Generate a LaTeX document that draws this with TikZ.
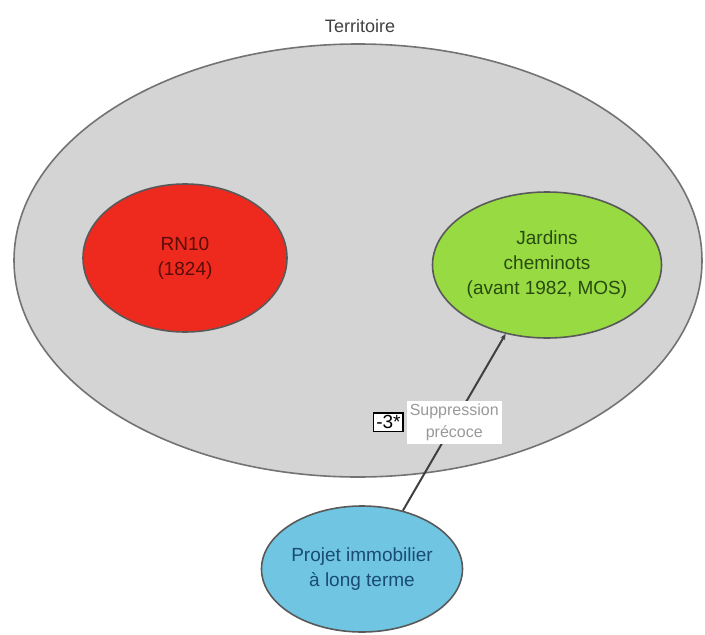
\documentclass[tikz,border=0pt]{standalone}
\usepackage{fontspec}
\setmainfont{Liberation Sans}
\usetikzlibrary{shapes.geometric,positioning,arrows.meta}

\definecolor{fondgris}{RGB}{212,212,212}
\definecolor{rougeRN}{RGB}{238,42,30}
\definecolor{vertJardin}{RGB}{152,218,66}
\definecolor{bleuProjet}{RGB}{112,198,226}

\tikzset{
  zone/.style={ellipse, draw=black!65, line width=1.6pt, inner sep=0pt, align=center,
    font=\fontsize{19}{25}\selectfont},
}

\begin{document}
\begin{tikzpicture}[x=1pt,y=-1pt]
            \useasboundingbox (0,0) rectangle (705,635);

            % territoire
            \node[zone, fill=fondgris, draw=black!55, minimum width=688pt, minimum height=433pt] (territoire) at (358,260.5) {};
            \node[font=\fontsize{18}{25}\selectfont, text=black!75] (titre) at (360,26) {Territoire};

            % zones
            \node[zone, fill=rougeRN, text={rgb,255:red,90;green,12;blue,6}, minimum width=204pt, minimum height=148pt] (rn) at (185,258) {RN10\\(1824)};
            \node[zone, fill=vertJardin, text={rgb,255:red,40;green,75;blue,15}, minimum width=229pt, minimum height=146pt] (jardins) at (547,265) {Jardins\\cheminots\\(avant 1982, MOS)};
            \node[zone, fill=bleuProjet, text={rgb,255:red,25;green,75;blue,115}, minimum width=201pt, minimum height=126pt] (projet) at (362,569) {Projet immobilier\\à long terme};

            \draw[-{Stealth[length=6pt,width=5pt]}, line width=2pt, black!75] (projet.55) -- (jardins.239)
              node[midway, fill=white, text=black!40, inner sep=3pt, align=center, font=\fontsize{16}{22}\selectfont] (supp) {Suppression\\précoce};
            \node[draw=black, line width=1.4pt, fill=white, inner sep=2.5pt, font=\fontsize{19}{22}\selectfont, left=2pt of supp] (cote) {-3*};
        \end{tikzpicture}
\end{document}
